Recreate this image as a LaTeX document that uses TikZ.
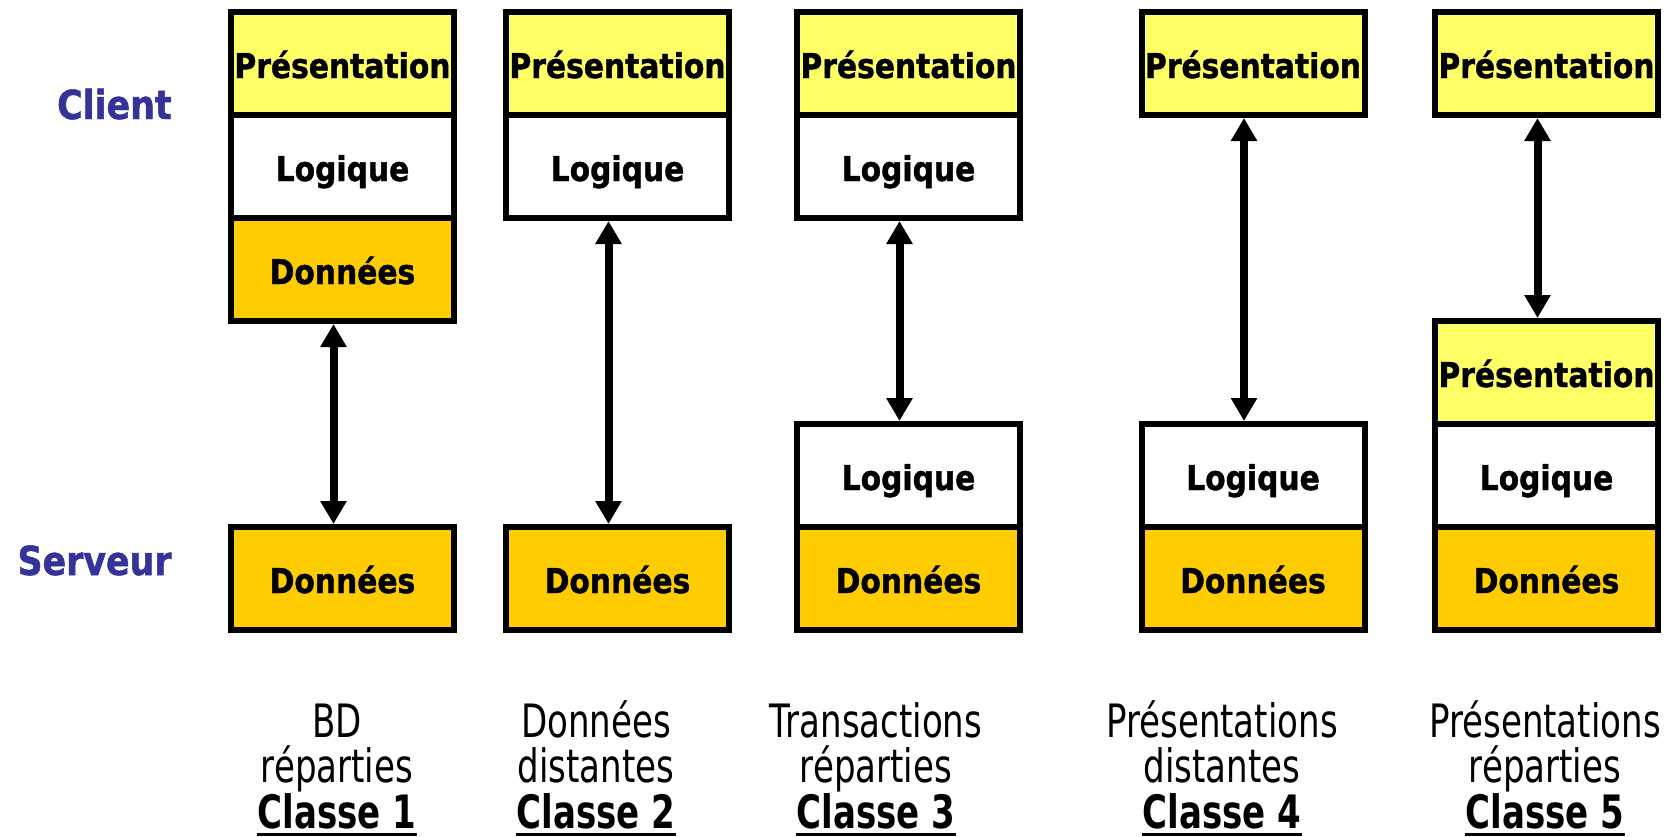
\documentclass[tikz,border=0pt]{standalone}
\usepackage{fontspec}
\setmainfont{DejaVu Sans}
\newfontfamily\cellfont[FakeStretch=0.87, BoldFeatures={FakeBold=1.2}]{DejaVu Sans}
\newfontfamily\notefont[FakeStretch=0.74]{DejaVu Sans}
\usetikzlibrary{arrows.meta}
\definecolor{presyellow}{HTML}{FFFF66}
\definecolor{datagold}{HTML}{FFCC00}
\definecolor{sideblue}{HTML}{333399}

\tikzset{
  cell/.style={draw=black, line width=3pt, minimum width=111.5pt,
    minimum height=51.5pt, inner sep=0pt, text height=14.5pt, text depth=0pt,
    font=\cellfont\fontsize{17.1}{20}\selectfont\bfseries},
  pres/.style={cell, fill=presyellow},
  logi/.style={cell, fill=white},
  data/.style={cell, fill=datagold},
  side/.style={anchor=base east, inner sep=0pt, text=sideblue,
    font=\cellfont\fontsize{20}{24}\selectfont\bfseries},
  link/.style={line width=4pt,
    {Triangle[width=12.5pt,length=11.5pt]}-{Triangle[width=12.5pt,length=11.5pt]}},
  note/.style={anchor=base, inner sep=0pt,
    font=\notefont\fontsize{23}{27}\selectfont},
  classe/.style={note, font=\notefont\fontsize{23}{27}\selectfont\bfseries},
  rule/.style={line width=1.5pt}
}

\begin{document}
\begin{tikzpicture}[x=0.5pt, y=-0.5pt]
  \useasboundingbox[fill=white] (0,0) rectangle (1680,836);

  % side labels
  \node[side] (client) at (172,119) {Client};
  \node[side] (serveur) at (172,575) {Serveur};

  % class 1
  \node[pres] (p1) at (342.5,63.5) {Présentation};
  \node[logi] (l1) at (342.5,166.5) {Logique};
  \node[data] (d1) at (342.5,269.5) {Données};
  \node[data] (sd1) at (342.5,578.5) {Données};

  % class 2
  \node[pres] (p2) at (617.5,63.5) {Présentation};
  \node[logi] (l2) at (617.5,166.5) {Logique};
  \node[data] (sd2) at (617.5,578.5) {Données};

  % class 3
  \node[pres] (p3) at (908.5,63.5) {Présentation};
  \node[logi] (l3) at (908.5,166.5) {Logique};
  \node[logi] (sl3) at (908.5,475.5) {Logique};
  \node[data] (sd3) at (908.5,578.5) {Données};

  % class 4
  \node[pres] (p4) at (1253,63.5) {Présentation};
  \node[logi] (sl4) at (1253,475.5) {Logique};
  \node[data] (sd4) at (1253,578.5) {Données};

  % class 5
  \node[pres] (p5) at (1546.5,63.5) {Présentation};
  \node[pres] (sp5) at (1546.5,372.5) {Présentation};
  \node[logi] (sl5) at (1546.5,475.5) {Logique};
  \node[data] (sd5) at (1546.5,578.5) {Données};

  % client/server links
  \coordinate (x1) at (333.5,0);
  \coordinate (x2) at (608.5,0);
  \coordinate (x3) at (899.5,0);
  \coordinate (x4) at (1244,0);
  \coordinate (x5) at (1537.5,0);
  \draw[link] (d1.south -| x1) -- (sd1.north -| x1);
  \draw[link] (l2.south -| x2) -- (sd2.north -| x2);
  \draw[link] (l3.south -| x3) -- (sl3.north -| x3);
  \draw[link] (p4.south -| x4) -- (sl4.north -| x4);
  \draw[link] (p5.south -| x5) -- (sp5.north -| x5);

  % captions
  \foreach \i/\x/\a/\b in {1/337/BD/réparties, 2/596/Données/distantes,
      3/876/Transactions/réparties, 4/1222/Présentations/distantes,
      5/1545/Présentations/réparties} {
    \node[note] (na\i) at (\x,737) {\a};
    \node[note] (nb\i) at (\x,782) {\b};
    \node[classe] (nc\i) at (\x,828) {Classe \i};
    \draw[rule] ([yshift=-3pt]nc\i.base west) -- ([yshift=-3pt]nc\i.base east);
  }
\end{tikzpicture}
\end{document}
